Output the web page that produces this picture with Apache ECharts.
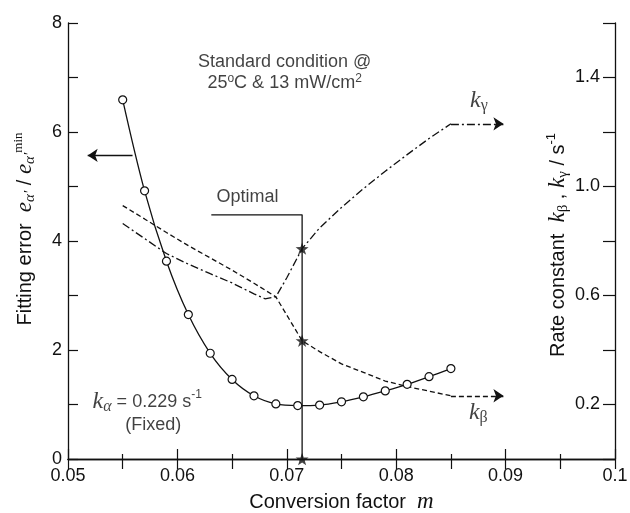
<!DOCTYPE html>
<html>
<head>
<meta charset="utf-8">
<script src="https://cdn.jsdelivr.net/npm/echarts@6.0.0/dist/echarts.min.js"></script>
<style>
html, body { margin: 0; padding: 0; background: #fff; }
#chart { width: 630px; height: 513px; }
</style>
</head>
<body>
<div id="chart"></div>
<script>
// fitting error (open circles, left axis)
var mFit   = [0.055, 0.057, 0.059, 0.061, 0.063, 0.065, 0.067, 0.069, 0.071, 0.073, 0.075, 0.077, 0.079, 0.081, 0.083, 0.085];
var errFit = [6.59, 4.92, 3.63, 2.65, 1.94, 1.46, 1.16, 1.01, 0.98, 0.99, 1.05, 1.14, 1.25, 1.37, 1.51, 1.66];

// rate constants (right axis)
var mK     = [0.055, 0.057, 0.059, 0.061, 0.063, 0.065, 0.067, 0.068, 0.069, 0.070, 0.0714, 0.073, 0.075, 0.077, 0.079, 0.081, 0.083, 0.085];
var kBeta  = [0.93, 0.881, 0.831, 0.783, 0.738, 0.693, 0.645, 0.62, 0.595, 0.528, 0.434, 0.394, 0.349, 0.318, 0.286, 0.266, 0.249, 0.232];
var kGamma = [0.864, 0.809, 0.754, 0.715, 0.68, 0.646, 0.606, 0.588, 0.595, 0.665, 0.772, 0.848, 0.923, 0.992, 1.056, 1.117, 1.176, 1.23];
var kArrowEnd = 0.0898;

// optimal point
var mOpt = 0.0714;
var optBracketX = [0.0631, mOpt, mOpt];
var optBracketY = [4.48, 4.48, 0];
var starY = [0.772, 0.434, 0];   // right axis units

// left-pointing arrow beside the fitting curve
var fitArrowX = [0.0559, 0.0518];
var fitArrowY = 5.57;

// tick labels
var xTickLabels = ['0.05', '0.06', '0.07', '0.08', '0.09', '0.1'];
var yLeftTickLabels = ['0', '2', '4', '6', '8'];
var yRightTickLabels = ['0.2', '0.6', '1.0', '1.4'];

// text notes (left axis units)
var notes = [
  { x: 0.0698, y: 7.09, text: '{a|Standard condition @}\n{a|25}{asup|o}{a|C & 13 mW/cm}{asup|2}', pos: 'inside' },
  { x: 0.0664, y: 4.81, text: '{a|Optimal}', pos: 'inside' },
  { x: 0.0522, y: 1.05, text: '{k|k}{ksub|α}{a| = 0.229 s}{asup|-1}', pos: 'right' },
  { x: 0.0578, y: 0.62, text: '{a|(Fixed)}', pos: 'inside' },
  { x: 0.0867, y: 6.57, text: '{k|k}{ksubu|γ}', pos: 'right' },
  { x: 0.0866, y: 0.85, text: '{k|k}{ksubu|β}', pos: 'right' }
];

var ink = '#111';
var sans = 'Liberation Sans';
var serif = 'Liberation Serif';
var star = 'path://M0,-10 L2.35,-3.24 L9.51,-3.09 L3.8,1.24 L5.88,8.09 L0,4 L-5.88,8.09 L-3.8,1.24 L-9.51,-3.09 L-2.35,-3.24 Z';

var nameRich = {
  t: { fontFamily: sans, fontSize: 20, color: ink, lineHeight: 26 },
  e: { fontFamily: serif, fontStyle: 'italic', fontSize: 23, color: ink, lineHeight: 26 },
  sub: { fontFamily: serif, fontStyle: 'italic', fontSize: 15, color: ink, lineHeight: 13, verticalAlign: 'bottom' },
  subu: { fontFamily: serif, fontSize: 15, color: ink, lineHeight: 13, verticalAlign: 'bottom' },
  sup: { fontFamily: serif, fontSize: 13, color: ink, lineHeight: 13, verticalAlign: 'top' },
  ssup: { fontFamily: sans, fontSize: 13, color: ink, lineHeight: 13, verticalAlign: 'top' }
};
var noteRich = {
  a: { fontFamily: sans, fontSize: 18, color: ink, lineHeight: 21 },
  asup: { fontFamily: sans, fontSize: 12, color: ink, lineHeight: 10, verticalAlign: 'top' },
  k: { fontFamily: serif, fontStyle: 'italic', fontSize: 24, color: ink, lineHeight: 26 },
  ksub: { fontFamily: serif, fontStyle: 'italic', fontSize: 16, color: ink, lineHeight: 13, verticalAlign: 'bottom' },
  ksubu: { fontFamily: serif, fontSize: 16, color: ink, lineHeight: 13, verticalAlign: 'bottom' }
};

function zip(a, b) { return a.map(function (v, i) { return [v, b[i]]; }); }

var tickLabel = { fontFamily: sans, fontSize: 18, color: ink };
var axisLine = { show: true, lineStyle: { color: ink, width: 1.3 } };

var chart = echarts.init(document.getElementById('chart'));
chart.setOption({
  animation: false,
  backgroundColor: '#fff',
  grid: { left: 68, right: 15, top: 23, bottom: 54, containLabel: false, outerBoundsMode: 'none' },
  xAxis: [
    {
      type: 'value', min: 0.05, max: 0.1, interval: 0.01, position: 'bottom',
      name: '{t|Conversion factor  }{e|m}', nameLocation: 'middle', nameGap: 30,
      nameTextStyle: { rich: nameRich },
      axisLine: axisLine,
      axisTick: { show: true, inside: true, length: 10, lineStyle: { color: ink, width: 1.2 } },
      minorTick: { show: true, splitNumber: 2, length: 5, lineStyle: { color: ink, width: 1.2 } },
      axisLabel: Object.assign({ margin: 8, formatter: function (v) {
        var s = (+v.toFixed(2)).toString();
        return xTickLabels.indexOf(s) >= 0 ? s : '';
      } }, tickLabel),
      splitLine: { show: false }
    },
    {
      type: 'value', min: 0.05, max: 0.1, interval: 0.005, position: 'top',
      axisLine: axisLine,
      axisTick: { show: true, inside: true, length: 10, lineStyle: { color: ink, width: 1.2 } },
      axisLabel: { show: false },
      splitLine: { show: false }
    }
  ],
  yAxis: [
    {
      type: 'value', min: 0, max: 8, interval: 2, position: 'left',
      name: '{t|Fitting error  }{e|e}{sub|α′}{t| / }{e|e}{sub|α′}{sup|min}',
      nameLocation: 'middle', nameGap: 30, nameRotate: 90,
      nameTextStyle: { rich: nameRich, padding: [0, 0, 0, 24] },
      axisLine: axisLine,
      axisTick: { show: true, inside: true, length: 10, lineStyle: { color: ink, width: 1.2 } },
      minorTick: { show: true, splitNumber: 2, length: 10, lineStyle: { color: ink, width: 1.2 } },
      axisLabel: Object.assign({ margin: 6, formatter: function (v) {
        var s = String(Math.round(v));
        return yLeftTickLabels.indexOf(s) >= 0 ? s : '';
      } }, tickLabel),
      splitLine: { show: false }
    },
    {
      type: 'value', min: 0, max: 1.6, interval: 0.2, position: 'right',
      axisLine: axisLine,
      axisTick: { show: true, inside: true, length: 12, lineStyle: { color: ink, width: 1.2 } },
      axisLabel: Object.assign({ inside: true, margin: 15, formatter: function (v) {
        var s = v.toFixed(1);
        return yRightTickLabels.indexOf(s) >= 0 ? s : '';
      } }, tickLabel),
      splitLine: { show: false }
    },
    {
      // carries only the right-hand axis title, which sits inside the frame
      type: 'value', min: 0, max: 1.6, position: 'right', offset: -70,
      name: '{t|Rate constant  }{e|k}{subu|β}{t| , }{e|k}{subu|γ}{t| / s}{ssup|-1}',
      nameLocation: 'middle', nameGap: 0, nameRotate: 90,
      nameTextStyle: { rich: nameRich, padding: [0, 8, 0, 0] },
      axisLine: { show: false }, axisTick: { show: false }, axisLabel: { show: false },
      splitLine: { show: false }
    }
  ],
  series: [
    {
      type: 'line', xAxisIndex: 0, yAxisIndex: 0,
      data: zip(mFit, errFit),
      smooth: 0.35,
      symbol: 'circle', symbolSize: 8,
      itemStyle: { color: '#fff', borderColor: ink, borderWidth: 1.2 },
      lineStyle: { color: ink, width: 1.3 },
      emphasis: { disabled: true },
      z: 4,
      markLine: {
        silent: true, symbol: ['none', 'arrow'], symbolSize: 10,
        lineStyle: { color: ink, width: 1.3, type: 'solid' },
        label: { show: false }, emphasis: { disabled: true },
        data: [[{ coord: [fitArrowX[0], fitArrowY] }, { coord: [fitArrowX[1], fitArrowY] }]]
      }
    },
    {
      type: 'line', xAxisIndex: 0, yAxisIndex: 1,
      data: zip(mK, kBeta),
      symbol: 'none',
      lineStyle: { color: ink, width: 1.3, type: [5, 3] },
      emphasis: { disabled: true },
      markLine: {
        silent: true, symbol: ['none', 'arrow'], symbolSize: 10,
        lineStyle: { color: ink, width: 1.3, type: [5, 3] },
        label: { show: false }, emphasis: { disabled: true },
        data: [[{ coord: [mK[mK.length - 1], kBeta[kBeta.length - 1]] }, { coord: [kArrowEnd, kBeta[kBeta.length - 1]] }]]
      }
    },
    {
      type: 'line', xAxisIndex: 0, yAxisIndex: 1,
      data: zip(mK, kGamma),
      symbol: 'none',
      lineStyle: { color: ink, width: 1.3, type: [8, 3, 2, 3] },
      emphasis: { disabled: true },
      markLine: {
        silent: true, symbol: ['none', 'arrow'], symbolSize: 10,
        lineStyle: { color: ink, width: 1.3, type: [8, 3, 2, 3] },
        label: { show: false }, emphasis: { disabled: true },
        data: [[{ coord: [mK[mK.length - 1], kGamma[kGamma.length - 1]] }, { coord: [kArrowEnd, kGamma[kGamma.length - 1]] }]]
      }
    },
    {
      type: 'line', xAxisIndex: 0, yAxisIndex: 0,
      data: zip(optBracketX, optBracketY),
      symbol: 'none',
      lineStyle: { color: ink, width: 1.3 },
      emphasis: { disabled: true }
    },
    {
      type: 'scatter', xAxisIndex: 0, yAxisIndex: 1,
      data: starY.map(function (y) { return [mOpt, y]; }),
      symbol: star, symbolSize: 13, symbolKeepAspect: true,
      itemStyle: { color: ink },
      clip: false, z: 6,
      emphasis: { disabled: true }
    },
    {
      type: 'scatter', xAxisIndex: 0, yAxisIndex: 0,
      symbolSize: 1, itemStyle: { color: 'rgba(0,0,0,0)' },
      silent: true, z: 7,
      data: notes.map(function (n) {
        return {
          value: [n.x, n.y],
          label: {
            show: true, position: n.pos, distance: 0,
            align: n.pos === 'inside' ? 'center' : 'left',
            verticalAlign: 'middle',
            formatter: n.text, rich: noteRich
          }
        };
      })
    }
  ]
});
</script>
</body>
</html>
